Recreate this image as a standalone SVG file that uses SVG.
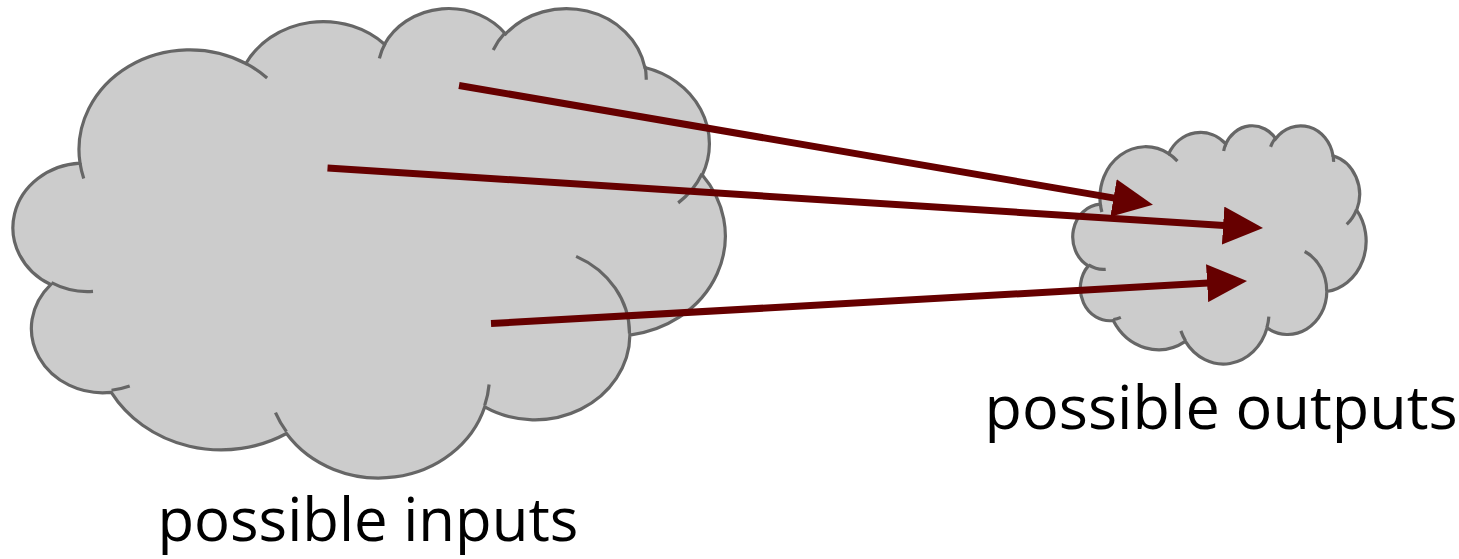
<svg xmlns="http://www.w3.org/2000/svg" width="1459" height="559" viewBox="0 0 1459 559">
  <style>
    .cloud { fill: #cccccc; stroke: #666666; stroke-width: 3.2; }
    .fold { fill: none; stroke: #666666; stroke-width: 3.2; }
    .link { fill: none; stroke: #660000; stroke-width: 7; stroke-linecap: butt; marker-end: url(#head); }
    .label { font-family: "Open Sans", "Noto Sans", sans-serif; font-size: 60px; fill: #000000; }
  </style>
  <defs>
    <!-- cloud outline in a 43200 x 43200 unit box -->
    <path id="cloud-outline" class="cloud" vector-effect="non-scaling-stroke"
      d="M 3900 14370
         A 6753 9190 0 0 1 14004 5201
         A 5333 7267 0 0 1 22456 3430
         A 4365 5945 0 0 1 29833 2479
         A 4857 6595 0 0 1 38318 5574
         A 5333 7273 0 0 1 41819 15458
         A 6775 9220 0 0 1 37405 30201
         A 5785 7867 0 0 1 28557 36812
         A 6752 9215 0 0 1 16481 39264
         A 7720 10543 0 0 1 5806 35471
         A 4360 5918 0 0 1 2113 25551
         A 4345 5945 0 0 1 3900 14370 Z"/>
    <!-- short inner arcs where the puffs overlap -->
    <path id="cloud-folds" class="fold" vector-effect="non-scaling-stroke"
      d="M 4693 26177 A 4345 5945 0 0 1 2159 25380
         M 6928 34899 A 4360 5918 0 0 1 5819 35281
         M 16478 39090 A 6752 9215 0 0 1 15810 37350
         M 28827 34751 A 6752 9215 0 0 1 28561 36659
         M 34129 22954 A 5785 7867 0 0 1 37381 30090
         M 41798 15354 A 5333 7273 0 0 1 40349 18031
         M 38324 5426 A 4857 6595 0 0 1 38400 6689
         M 29078 3952 A 4857 6595 0 0 1 29820 2340
         M 22141 4720 A 4365 5945 0 0 1 22500 3330
         M 14000 5192 A 6753 9190 0 0 1 15301 6541
         M 4127 15789 A 6753 9190 0 0 1 3900 14371"/>
    <marker id="head" viewBox="0 0 40 38" refX="1" refY="19" markerWidth="40" markerHeight="38"
      markerUnits="userSpaceOnUse" orient="auto">
      <path d="M 0 0 L 40 19 L 0 38 Z" fill="#660000"/>
    </marker>
  </defs>

  <g id="inputs">
    <g transform="translate(16 7) scale(0.016412 0.010863)">
      <use href="#cloud-outline"/>
      <use href="#cloud-folds"/>
    </g>
    <text class="label" x="157.4" y="541" textLength="421" lengthAdjust="spacingAndGlyphs">possible inputs</text>
  </g>

  <g id="outputs">
    <g transform="translate(1074 125) scale(0.0067593 0.0055124)">
      <use href="#cloud-outline"/>
      <use href="#cloud-folds"/>
    </g>
    <text class="label" x="984.6" y="429" textLength="473" lengthAdjust="spacingAndGlyphs">possible outputs</text>
  </g>

  <g id="connectors">
    <line class="link" x1="459" y1="85.5" x2="1114.5" y2="198.1"/>
    <line class="link" x1="327.5" y1="168" x2="1224.1" y2="225.6"/>
    <line class="link" x1="491" y1="323.5" x2="1208.1" y2="283.1"/>
  </g>
</svg>
